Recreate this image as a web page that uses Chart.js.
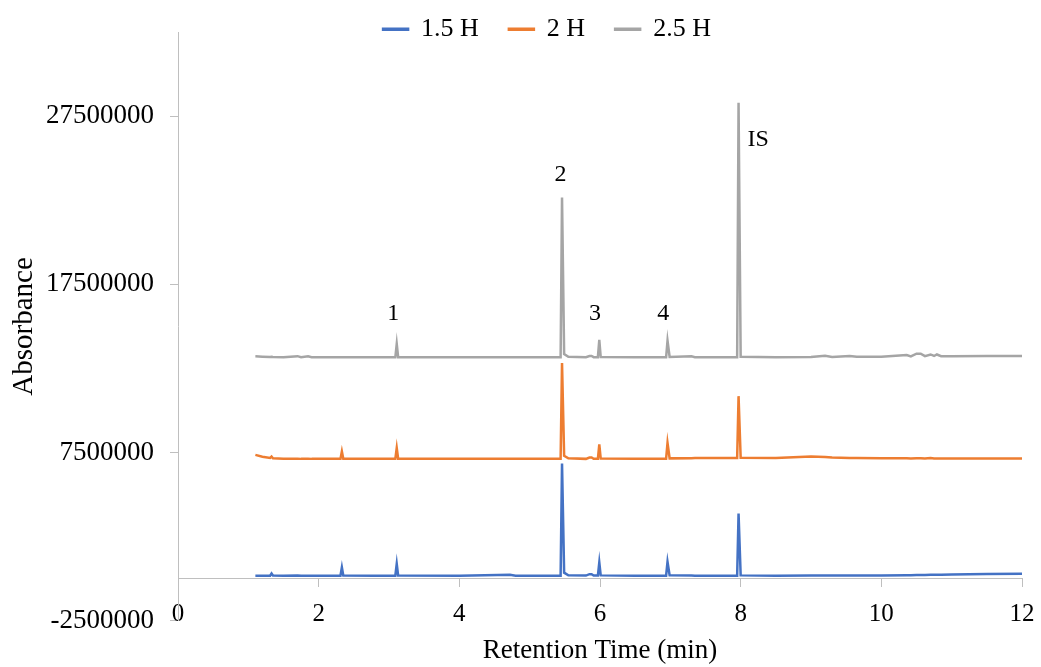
<!DOCTYPE html>
<html>
<head>
<meta charset="utf-8">
<title>Chromatogram</title>
<script src="https://cdn.jsdelivr.net/npm/chart.js@4.4.1/dist/chart.umd.min.js"></script>
<style>
  body { margin: 0; background: #fff; }
  #wrap { width: 1041px; height: 667px; }
</style>
</head>
<body>
<div id="wrap"><canvas id="chromChart" width="1041" height="667"></canvas></div>
<script>
'use strict';

const seriesNames = ['1.5 H', '2 H', '2.5 H'];

// retention time (min), shared by all three runs
const retentionTimes = [
  1.10, 1.20, 1.31, 1.33, 1.35, 1.50, 1.70, 1.75, 1.85, 1.90,
  2.31, 2.33, 2.35, 2.80, 3.09, 3.11, 3.13, 4.00, 4.72, 4.80,
  5.44, 5.46, 5.49, 5.55, 5.80, 5.85, 5.88, 5.91, 5.97, 5.99,
  6.01, 6.50, 6.94, 6.96, 6.99, 7.30, 7.35, 7.95, 7.97, 8.00,
  8.50, 9.00, 9.20, 9.30, 9.55, 9.65, 10.00, 10.36, 10.42, 10.50,
  10.56, 10.62, 10.70, 10.75, 10.79, 10.85, 11.00, 11.50, 12.00,
];

const abs15 = [
  170000, 170000, 170000, 300000, 180000, 170000, 180000, 170000, 170000, 170000,
  170000, 660000, 180000, 170000, 170000, 880000, 180000, 170000, 220000, 170000,
  170000, 6840000, 350000, 200000, 180000, 260000, 260000, 180000, 180000, 960000,
  190000, 170000, 170000, 1000000, 190000, 180000, 170000, 170000, 3870000, 190000,
  170000, 180000, 180000, 180000, 180000, 180000, 190000, 200000, 200000, 210000,
  210000, 210000, 220000, 220000, 220000, 230000, 240000, 270000, 280000,
];

const abs20 = [
  7360000, 7250000, 7180000, 7260000, 7160000, 7130000, 7130000, 7120000, 7130000, 7120000,
  7120000, 7560000, 7130000, 7120000, 7120000, 7770000, 7130000, 7120000, 7120000, 7120000,
  7120000, 12820000, 7300000, 7150000, 7120000, 7200000, 7200000, 7120000, 7120000, 7980000,
  7140000, 7120000, 7130000, 8070000, 7150000, 7160000, 7170000, 7170000, 10850000, 7180000,
  7170000, 7260000, 7230000, 7200000, 7170000, 7170000, 7150000, 7150000, 7140000, 7160000,
  7150000, 7140000, 7170000, 7140000, 7140000, 7140000, 7140000, 7140000, 7140000,
];

const abs25 = [
  13220000, 13200000, 13180000, 13190000, 13180000, 13170000, 13230000, 13170000, 13220000, 13170000,
  13170000, 13170000, 13170000, 13160000, 13160000, 13960000, 13170000, 13160000, 13160000, 13160000,
  13160000, 22660000, 13350000, 13190000, 13170000, 13240000, 13240000, 13170000, 13170000, 14200000,
  13180000, 13160000, 13160000, 14150000, 13180000, 13220000, 13170000, 13170000, 28300000, 13190000,
  13160000, 13180000, 13250000, 13180000, 13240000, 13190000, 13200000, 13300000, 13220000, 13380000,
  13380000, 13230000, 13330000, 13240000, 13330000, 13230000, 13230000, 13240000, 13240000,
];

const yTickValues = [-2500000, 7500000, 17500000, 27500000];

// peak labels, placed in data units
const peakNames = ['1', '2', '3', '4', 'IS'];
const peakTimes = [3.06, 5.44, 5.93, 6.90, 8.25];
const peakLevels = [15750000, 24000000, 15770000, 15770000, 26130000];

const seriesColors = ['#4472C4', '#ED7D31', '#A5A5A5'];
const axisGrey = '#BFBFBF';
const serif = '"Liberation Serif", "Times New Roman", serif';

Chart.defaults.font.family = serif;
Chart.defaults.color = '#000';

function toPoints(values) {
  return retentionTimes.map((t, i) => ({ x: t, y: values[i] }));
}

// legend sits over the top of the plot, a bit right of centre
const legendNudge = {
  id: 'legendNudge',
  afterLayout(chart) {
    const lg = chart.legend;
    lg.left += 36;
    lg.right += 36;
    lg.top -= 14;
    lg.bottom += 16;
  },
};

const peakLabels = {
  id: 'peakLabels',
  afterDatasetsDraw(chart) {
    const { ctx } = chart;
    const x = chart.scales.x;
    const y = chart.scales.y;
    ctx.save();
    ctx.font = '24px ' + serif;
    ctx.fillStyle = '#000';
    ctx.textAlign = 'center';
    ctx.textBaseline = 'middle';
    peakNames.forEach((name, i) => {
      ctx.fillText(name, x.getPixelForValue(peakTimes[i]), y.getPixelForValue(peakLevels[i]));
    });
    ctx.restore();
  },
};

const ctx = document.getElementById('chromChart').getContext('2d');

new Chart(ctx, {
  type: 'line',
  data: {
    datasets: [abs15, abs20, abs25].map((vals, i) => ({
      label: seriesNames[i],
      data: toPoints(vals),
      borderColor: seriesColors[i],
      backgroundColor: seriesColors[i],
      borderWidth: 2.5,
      pointRadius: 0,
      tension: 0,
      xAxisID: 'x',
      yAxisID: 'y',
    })),
  },
  options: {
    responsive: false,
    animation: false,
    layout: { padding: { left: 0, right: 19, top: 0, bottom: 46.4 } },
    plugins: {
      tooltip: { enabled: false },
      legend: {
        position: 'top',
        maxHeight: 32,
        labels: {
          boxWidth: 25,
          boxHeight: 1,
          padding: 30,
          color: '#000',
          font: { size: 26 },
        },
      },
    },
    scales: {
      // axis line that crosses at zero absorbance
      x: {
        type: 'linear',
        position: { y: 0 },
        min: 0,
        max: 12,
        ticks: { display: false, stepSize: 2 },
        grid: { drawOnChartArea: false, tickLength: 8, color: axisGrey },
        border: { color: axisGrey },
        afterFit: (scale) => { scale.height = 0; },
      },
      // labels sit low, at the bottom edge of the plot
      xBottom: {
        type: 'linear',
        position: { y: -2500000 },
        min: 0,
        max: 12,
        ticks: { stepSize: 2, padding: -21, color: '#000', font: { size: 25 } },
        grid: { display: false, drawTicks: false },
        border: { display: false },
        title: {
          display: true,
          text: 'Retention Time (min)',
          color: '#000',
          font: { size: 27, lineHeight: 1.1 },
          padding: { top: 0, bottom: 1 },
        },
        afterFit: (scale) => { scale.height = 46.4; },
      },
      y: {
        type: 'linear',
        min: -2500000,
        max: 32500000,
        afterBuildTicks: (scale) => {
          scale.ticks = yTickValues.map((v) => ({ value: v }));
        },
        afterFit: (scale) => { scale.width = 178; },
        ticks: {
          padding: 16,
          color: '#000',
          font: { size: 27 },
          callback: (v) => String(v),
        },
        grid: { drawOnChartArea: false, tickLength: 8, color: axisGrey },
        border: { color: axisGrey },
        title: {
          display: true,
          text: 'Absorbance',
          color: '#000',
          font: { size: 29 },
          padding: { top: 7, bottom: 0 },
        },
      },
    },
  },
  plugins: [legendNudge, peakLabels],
});
</script>
</body>
</html>
